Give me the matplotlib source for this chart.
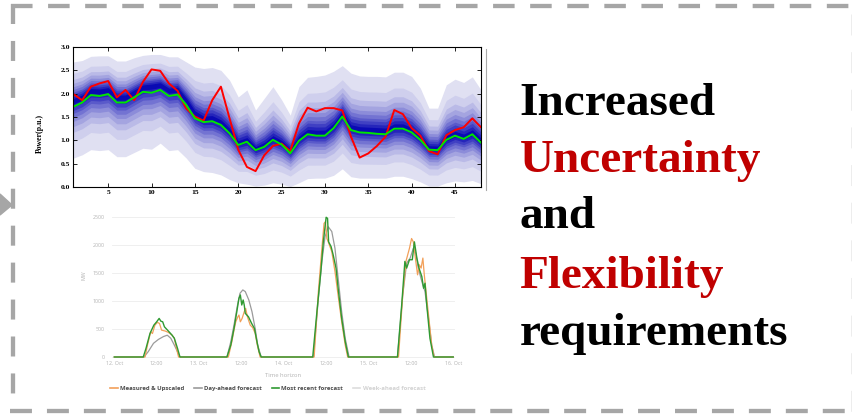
import numpy as np
import matplotlib.pyplot as plt
from matplotlib.lines import Line2D
from matplotlib.patches import Polygon, Rectangle

plt.rcParams['lines.scale_dashes'] = False

W, H = 853, 419

# ---------------- probabilistic forecast (top panel) ----------------
steps = np.arange(1, 49)
fan_mid = [1.85, 1.93, 2.07, 2.06, 2.09, 1.93, 1.93, 2.04, 2.15, 2.17, 2.20, 2.08,
           2.10, 1.86, 1.58, 1.46, 1.47, 1.38, 1.20, 0.94, 1.00, 0.82, 0.90, 1.04,
           0.95, 0.78, 1.03, 1.17, 1.15, 1.15, 1.30, 1.56, 1.27, 1.23, 1.22, 1.21,
           1.20, 1.29, 1.29, 1.21, 1.05, 0.84, 0.83, 1.04, 1.13, 1.07, 1.16, 0.99]
fan_hi = [2.68, 2.71, 2.80, 2.81, 2.81, 2.70, 2.70, 2.77, 2.82, 2.84, 2.84, 2.79,
          2.79, 2.68, 2.57, 2.54, 2.56, 2.50, 2.29, 1.93, 2.08, 1.65, 1.90, 2.15,
          1.87, 1.54, 2.15, 2.35, 2.37, 2.40, 2.48, 2.60, 2.44, 2.38, 2.37, 2.37,
          2.36, 2.46, 2.46, 2.37, 2.12, 1.69, 1.69, 2.19, 2.31, 2.24, 2.36, 2.08]
fan_lo = [0.62, 0.69, 0.80, 0.78, 0.80, 0.65, 0.65, 0.74, 0.83, 0.81, 0.94, 0.78,
          0.80, 0.62, 0.40, 0.33, 0.31, 0.26, 0.16, 0.09, 0.06, 0.02, 0.04, 0.09,
          0.06, 0.01, 0.09, 0.18, 0.19, 0.19, 0.25, 0.39, 0.22, 0.19, 0.19, 0.19,
          0.19, 0.23, 0.23, 0.18, 0.11, 0.02, 0.02, 0.09, 0.13, 0.11, 0.14, 0.07]
actual = [1.99, 1.86, 2.15, 2.22, 2.27, 1.92, 2.08, 1.86, 2.25, 2.52, 2.49, 2.22,
          2.06, 1.68, 1.51, 1.42, 1.86, 2.15, 1.47, 0.80, 0.43, 0.34, 0.68, 0.88,
          0.93, 0.77, 1.36, 1.70, 1.62, 1.69, 1.69, 1.64, 1.08, 0.63, 0.72, 0.88,
          1.08, 1.65, 1.56, 1.26, 1.10, 0.77, 0.70, 1.11, 1.22, 1.28, 1.47, 1.28]
point_fc = [1.72, 1.81, 1.97, 1.95, 1.99, 1.81, 1.81, 1.92, 2.04, 2.02, 2.08, 1.95,
            1.98, 1.76, 1.47, 1.39, 1.41, 1.33, 1.15, 0.90, 0.97, 0.79, 0.86, 1.01,
            0.91, 0.72, 0.99, 1.13, 1.10, 1.10, 1.26, 1.51, 1.22, 1.17, 1.16, 1.14,
            1.13, 1.25, 1.25, 1.17, 1.01, 0.80, 0.79, 1.01, 1.10, 1.03, 1.13, 0.95]
# share of the outer spread kept by each nested band, outermost first
band_levels = [1.0, 0.71, 0.55, 0.45, 0.36, 0.29, 0.22, 0.17, 0.11, 0.054]

# ---------------- PV production (bottom panel) ----------------
measured_h = [0, 8.7, 9.4, 10.3, 10.8, 11.5, 12.2, 12.8, 13.4, 14.4, 15.3, 16.3, 17.0, 17.6, 18.2,
              32.3, 33.3, 33.9, 34.4, 35.0, 35.3, 35.7, 36.2, 36.8, 37.2, 37.7, 38.5, 39.2, 39.9, 40.5, 41.3,
              56.6, 57.8, 58.8, 59.4, 59.8, 60.2, 60.6, 61.6, 62.5, 63.5, 64.4, 65.4, 66.1,
              80.5, 81.7, 82.6, 83.6, 84.2, 84.7, 85.4, 85.9, 86.4, 86.9, 87.4, 87.8, 88.3, 89.0, 89.9, 90.6, 96]
measured_mw = [0, 0, 215, 450, 420, 570, 620, 600, 480, 465, 440, 395, 335, 155, 0,
               0, 275, 480, 630, 720, 750, 630, 690, 810, 870, 720, 570, 525, 425, 215, 0,
               0, 1170, 1945, 2390, 2420, 2120, 2060, 1885, 1530, 1050, 630, 215, 0,
               0, 1110, 1710, 1945, 2120, 2060, 1710, 1470, 1650, 1590, 1770, 1470, 1170, 750, 215, 0, 0]
dayahead_h = [0, 8.4, 9.6, 11.1, 12.5, 13.9, 15.0, 16.0, 16.9, 17.9, 18.6,
              31.9, 33.0, 33.9, 34.9, 35.6, 36.4, 37.1, 38.1, 39.0, 39.9, 40.6, 41.6,
              56.4, 57.8, 58.8, 59.7, 60.6, 61.6, 62.5, 63.5, 64.4, 65.4, 66.5,
              80.2, 81.7, 82.8, 83.8, 84.7, 85.4, 86.1, 87.1, 88.0, 89.0, 89.9, 90.7, 96]
dayahead_mw = [0, 0, 95, 245, 315, 365, 390, 335, 225, 95, 0,
               0, 275, 570, 930, 1140, 1200, 1170, 1020, 810, 510, 215, 0,
               0, 1050, 1710, 2155, 2330, 2245, 1945, 1350, 810, 335, 0,
               0, 1110, 1680, 1770, 1945, 1855, 1590, 1350, 1170, 690, 215, 0, 0]
recent_h = [0, 8.2, 9.0, 10.1, 11.2, 12.0, 12.7, 13.2, 13.7, 14.2, 15.3, 16.3, 17.0, 17.9, 18.6,
            31.9, 33.0, 33.9, 34.7, 35.3, 35.7, 36.1, 36.5, 36.8, 37.1, 38.0, 38.9, 39.7, 40.4, 41.0, 41.6,
            56.2, 57.3, 58.5, 59.2, 60.0, 60.4, 60.7, 61.4, 62.0, 62.8, 63.5, 64.4, 65.4, 66.3,
            80.2, 81.4, 82.3, 82.8, 83.6, 84.4, 85.0, 85.7, 86.3, 87.1, 87.6, 88.0, 88.5, 89.4, 90.4, 96]
recent_mw = [0, 0, 160, 420, 570, 630, 690, 640, 630, 540, 465, 395, 335, 155, 0,
             0, 215, 510, 810, 1050, 1110, 930, 1020, 930, 780, 720, 600, 510, 275, 95, 0,
             0, 750, 1530, 2060, 2500, 2480, 2060, 1975, 1825, 1590, 1170, 690, 275, 0,
             0, 930, 1710, 1590, 1740, 1740, 2060, 1770, 1590, 1440, 1230, 1320, 930, 335, 0, 0]
tick_hours = [0, 12, 24, 36, 48, 60, 72, 84, 96]
tick_names = ['12. Oct', '12:00', '13. Oct', '12:00', '14. Oct', '12:00',
              '15. Oct', '12:00', '16. Oct']
legend_names = ['Measured & Upscaled', 'Day-ahead forecast',
                'Most recent forecast', 'Week-ahead forecast']

words = ['Increased', 'Uncertainty', 'and', 'Flexibility', 'requirements']
word_colors = ['black', '#c00000', 'black', '#c00000', 'black']


def fx(x):
    return x / W


def fy(y):
    return 1 - y / H


fig = plt.figure(figsize=(W / 100, H / 100), dpi=100)

# ---- top: fan chart ----
ax1 = fig.add_axes([fx(73.5), fy(187), (481 - 73.5) / W, 140 / H])
mid = np.array(fan_mid)
hi = np.array(fan_hi)
lo = np.array(fan_lo)
light = np.array([0.88, 0.88, 0.95])
dark = np.array([0.04, 0.04, 0.70])
n = len(band_levels)
for i, f in enumerate(band_levels):
    c = light + (dark - light) * (i / (n - 1)) ** 1.15
    ax1.fill_between(steps, mid + f * (hi - mid), mid - f * (mid - lo),
                     color=c, lw=0)
ax1.plot(steps, actual, color='#ff0000', lw=1.4)
ax1.plot(steps, point_fc, color='#00e600', lw=1.4)
ax1.set_xlim(1, 48)
ax1.set_ylim(0, 3)
ax1.set_xticks(range(5, 48, 5))
ax1.set_yticks(np.arange(0, 3.01, 0.5))
ax1.set_yticklabels(['%.1f' % v for v in np.arange(0, 3.01, 0.5)])
ax1.tick_params(direction='in', top=True, right=True, length=3, width=0.6,
                pad=2.5, labelsize=5.4)
for lab in ax1.get_xticklabels() + ax1.get_yticklabels():
    lab.set_fontfamily('Liberation Serif')
    lab.set_fontweight('bold')
for sp in ax1.spines.values():
    sp.set_linewidth(0.8)
ax1.set_ylabel('Power(p.u.)', fontsize=5.6, fontweight='bold',
               fontfamily='Liberation Serif')
ax1.yaxis.set_label_coords(-0.072, 0.386)
ax1.set_xlabel('Time', fontsize=6, fontweight='bold',
               fontfamily='Liberation Serif')
ax1.xaxis.set_label_coords(0.48, -0.13)

# the pasted lower chart hides the bottom of the time label
fig.add_artist(Rectangle((fx(60), fy(402)), 410 / W, 197 / H,
                         transform=fig.transFigure, color='white', zorder=1))
fig.add_artist(Line2D([fx(486), fx(486)], [fy(49), fy(190)],
                      transform=fig.transFigure, color='#aaaaaa', lw=0.8))

# ---- bottom: PV production ----
ax2 = fig.add_axes([fx(111.7), fy(358), (455 - 111.7) / W, 148 / H])
ax2.set_zorder(2)
ax2.patch.set_alpha(0)
ax2.plot(dayahead_h, dayahead_mw, color='#9b9b9b', lw=0.9)
ax2.plot(measured_h, measured_mw, color='#f2a05a', lw=0.9)
ax2.plot(recent_h, recent_mw, color='#2f9a32', lw=1.0)
ax2.set_xlim(-0.74, 96.5)
ax2.set_ylim(-18, 2630)
ax2.set_yticks(range(0, 2501, 500))
ax2.set_xticks(tick_hours)
ax2.set_xticklabels(tick_names)
ax2.grid(axis='y', color='#ececec', lw=0.6)
ax2.set_axisbelow(True)
for sp in ax2.spines.values():
    sp.set_visible(False)
ax2.tick_params(length=0, labelsize=3.8, labelcolor='#b3b3b3')
ax2.tick_params(axis='y', pad=4.8)
ax2.tick_params(axis='x', pad=2.2)
for lab in ax2.get_xticklabels() + ax2.get_yticklabels():
    lab.set_fontfamily('Open Sans')
ax2.set_ylabel('MW', fontsize=3.8, color='#b3b3b3', fontfamily='Open Sans')
ax2.yaxis.set_label_coords(-0.073, 0.56)
ax2.set_xlabel('Time horizon', fontsize=4.2, color='#b3b3b3', fontfamily='Open Sans')
ax2.xaxis.set_label_coords(0.499, -0.099)

handles = [Line2D([], [], color='#f2a05a', lw=1.2),
           Line2D([], [], color='#9b9b9b', lw=1.2),
           Line2D([], [], color='#2f9a32', lw=1.2),
           Line2D([], [], color='#dddddd', lw=1.2)]
leg = ax2.legend(handles, legend_names, loc='center',
                 bbox_to_anchor=(fx(268), fy(388)), bbox_transform=fig.transFigure,
                 ncol=4, frameon=False, handlelength=1.2, handletextpad=0.4,
                 columnspacing=1.7,
                 prop={'family': 'Open Sans', 'weight': 'bold', 'size': 4.3})
for txt, col in zip(leg.get_texts(), ['#4a4a4a', '#4a4a4a', '#4a4a4a', '#d2d2d2']):
    txt.set_color(col)

# ---- headline words ----
baselines = [115, 171.7, 228.3, 288.3, 345]
for word, col, yb in zip(words, word_colors, baselines):
    fig.text(fx(519.5), fy(yb), word, ha='left', va='baseline', color=col,
             fontsize=34, fontweight='bold', fontfamily='Liberation Serif')

# ---- dashed frame ----
grey = '#a6a6a6'
frame = [
    ([10.7, 853], [6.3, 6.3], 3.1, (0, (15.5, 11.2))),
    ([12.85, 12.85], [4.3, 405], 3.1, (0, (14.4, 12.2))),
    ([10, 853], [410.5, 410.5], 3.1, (0, (15.8, 10.8))),
    ([852.3, 852.3], [14, 419], 1.0, (0, (15.1, 12.0))),
]
for xs, ys, lw, ls in frame:
    fig.add_artist(Line2D([fx(v) for v in xs], [fy(v) for v in ys],
                          transform=fig.transFigure, color=grey, lw=lw,
                          linestyle=ls, solid_capstyle='butt'))
fig.add_artist(Polygon([(fx(0), fy(194)), (fx(12), fy(205)), (fx(0), fy(215))],
                       closed=True, transform=fig.transFigure, color=grey))

fig.savefig('out.png', dpi=100)
